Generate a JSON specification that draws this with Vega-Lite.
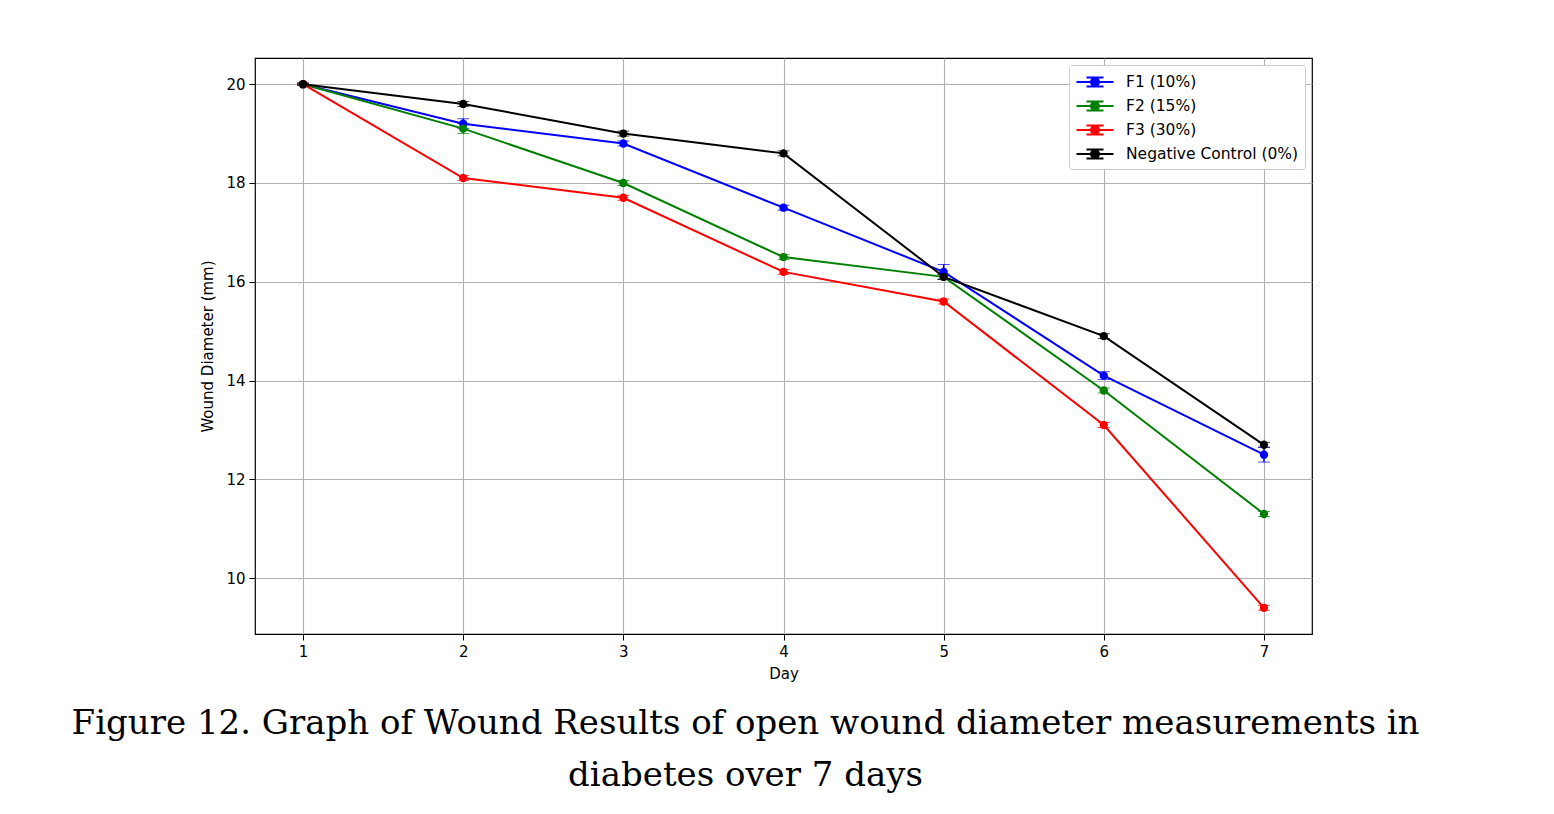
{
  "$schema": "https://vega.github.io/schema/vega-lite/v6.json",
  "autosize": {"type": "none"},
  "padding": {"left": 255, "top": 58, "right": 242, "bottom": 180},
  "width": 1057,
  "height": 576,
  "background": "white",
  "title": {
    "text": ["Figure 12. Graph of Wound Results of open wound diameter measurements in", "diabetes over 7 days"],
    "orient": "bottom",
    "anchor": "middle",
    "dx": -38,
    "offset": 26,
    "font": "DejaVu Serif",
    "fontSize": 34,
    "fontWeight": "normal",
    "lineHeight": 52,
    "color": "black"
  },
  "config": {
    "view": {"stroke": "black", "strokeWidth": 1.2},
    "axis": {
      "labelFont": "DejaVu Sans",
      "labelFontSize": 15,
      "labelColor": "black",
      "titleFont": "DejaVu Sans",
      "titleFontSize": 15,
      "titleFontWeight": "normal",
      "titleColor": "black",
      "tickColor": "black",
      "tickSize": 6,
      "labelPadding": 4,
      "domain": false,
      "grid": true,
      "gridColor": "#b0b0b0",
      "gridWidth": 1.1
    },
    "legend": {
      "labelFont": "DejaVu Sans",
      "labelFontSize": 15.5,
      "labelColor": "black",
      "labelLimit": 400,
      "orient": "top-right",
      "offset": 7,
      "padding": 6,
      "strokeColor": "#cccccc",
      "fillColor": "white",
      "cornerRadius": 3,
      "rowPadding": 4,
      "symbolSize": 400,
      "symbolOpacity": 1,
      "symbolStrokeWidth": 2,
      "symbolOffset": 9,
      "labelOffset": 20,
      "symbolType": "M-1.85,0H1.85M0,-0.45V0.45M-0.85,-0.45H0.85M-0.85,0.45H0.85M0.4,0A0.4,0.4,0,1,1,-0.4,0A0.4,0.4,0,1,1,0.4,0Z"
    }
  },
  "data": {
    "values": [
      {"day": 1, "diameter": 20.0, "err": 0.02, "group": "F1 (10%)"},
      {"day": 2, "diameter": 19.2, "err": 0.1, "group": "F1 (10%)"},
      {"day": 3, "diameter": 18.8, "err": 0.05, "group": "F1 (10%)"},
      {"day": 4, "diameter": 17.5, "err": 0.05, "group": "F1 (10%)"},
      {"day": 5, "diameter": 16.2, "err": 0.15, "group": "F1 (10%)"},
      {"day": 6, "diameter": 14.1, "err": 0.08, "group": "F1 (10%)"},
      {"day": 7, "diameter": 12.5, "err": 0.15, "group": "F1 (10%)"},
      {"day": 1, "diameter": 20.0, "err": 0.02, "group": "F2 (15%)"},
      {"day": 2, "diameter": 19.1, "err": 0.1, "group": "F2 (15%)"},
      {"day": 3, "diameter": 18.0, "err": 0.05, "group": "F2 (15%)"},
      {"day": 4, "diameter": 16.5, "err": 0.05, "group": "F2 (15%)"},
      {"day": 5, "diameter": 16.1, "err": 0.05, "group": "F2 (15%)"},
      {"day": 6, "diameter": 13.8, "err": 0.05, "group": "F2 (15%)"},
      {"day": 7, "diameter": 11.3, "err": 0.05, "group": "F2 (15%)"},
      {"day": 1, "diameter": 20.0, "err": 0.02, "group": "F3 (30%)"},
      {"day": 2, "diameter": 18.1, "err": 0.05, "group": "F3 (30%)"},
      {"day": 3, "diameter": 17.7, "err": 0.05, "group": "F3 (30%)"},
      {"day": 4, "diameter": 16.2, "err": 0.05, "group": "F3 (30%)"},
      {"day": 5, "diameter": 15.6, "err": 0.05, "group": "F3 (30%)"},
      {"day": 6, "diameter": 13.1, "err": 0.05, "group": "F3 (30%)"},
      {"day": 7, "diameter": 9.4, "err": 0.05, "group": "F3 (30%)"},
      {"day": 1, "diameter": 20.0, "err": 0.02, "group": "Negative Control (0%)"},
      {"day": 2, "diameter": 19.6, "err": 0.05, "group": "Negative Control (0%)"},
      {"day": 3, "diameter": 19.0, "err": 0.05, "group": "Negative Control (0%)"},
      {"day": 4, "diameter": 18.6, "err": 0.05, "group": "Negative Control (0%)"},
      {"day": 5, "diameter": 16.1, "err": 0.05, "group": "Negative Control (0%)"},
      {"day": 6, "diameter": 14.9, "err": 0.05, "group": "Negative Control (0%)"},
      {"day": 7, "diameter": 12.7, "err": 0.05, "group": "Negative Control (0%)"}
    ]
  },
  "encoding": {
    "x": {
      "field": "day",
      "type": "quantitative",
      "title": "Day",
      "scale": {"domain": [0.7, 7.3], "nice": false, "zero": false},
      "axis": {"values": [1, 2, 3, 4, 5, 6, 7], "format": "d", "titlePadding": 7}
    },
    "y": {
      "field": "diameter",
      "type": "quantitative",
      "title": "Wound Diameter (mm)",
      "scale": {"domain": [8.87, 20.53], "nice": false, "zero": false},
      "axis": {"values": [10, 12, 14, 16, 18, 20], "titlePadding": 10}
    },
    "color": {
      "field": "group",
      "type": "nominal",
      "title": null,
      "scale": {
        "domain": ["F1 (10%)", "F2 (15%)", "F3 (30%)", "Negative Control (0%)"],
        "range": ["#0000ff", "#008000", "#ff0000", "#000000"]
      }
    }
  },
  "layer": [
    {
      "mark": {"type": "errorbar", "ticks": {"size": 12, "strokeWidth": 1.5}, "rule": {"strokeWidth": 1.5}},
      "encoding": {
        "yError": {"field": "err"}
      }
    },
    {
      "mark": {"type": "line", "strokeWidth": 2, "point": {"filled": true, "size": 70, "opacity": 1}}
    }
  ]
}
